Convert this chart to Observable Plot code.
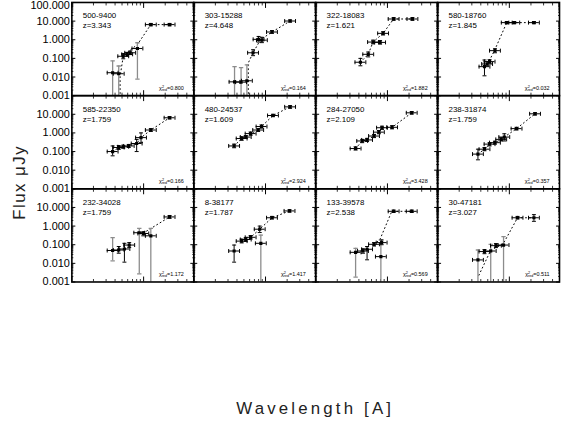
<!DOCTYPE html>
<html><head><meta charset="utf-8">
<script src="https://cdn.jsdelivr.net/npm/d3@7"></script>
<script src="https://cdn.jsdelivr.net/npm/@observablehq/plot@0.6"></script>
<style>
html,body{margin:0;padding:0;background:#fff;overflow:hidden;}
#chart{position:relative;width:561px;height:433px;overflow:hidden;}
</style></head><body><div id="chart"></div>
<script>
// ---- data ----
const ids = ["500-9400","303-15288","322-18083","580-18760","585-22350","480-24537","284-27050","238-31874","232-34028","8-38177","133-39578","30-47181"];
const redshifts = ["3.343","4.648","1.621","1.845","1.759","1.609","2.109","1.759","1.759","1.787","2.538","3.027"];
const chi2 = ["0.800","0.164","1.882","0.032","0.166","2.924","3.428","0.357","1.172","1.417","0.569","0.511"];

// wavelength [A]
const lam = [
 [3700, 4500, 5200, 5900, 6500, 8200, 12600, 23000],
 [3700, 4560, 5500, 6700, 8000, 8900, 12300, 22000],
 [4200, 5400, 6300, 7900, 8700, 12200, 22300],
 [4500, 4900, 5300, 6300, 9200, 11700, 22000],
 [3700, 4500, 5200, 6200, 8000, 9200, 12600, 23000],
 [3650, 4650, 5300, 6200, 7900, 8800, 12700, 22000],
 [3600, 4450, 5200, 6500, 7600, 8400, 11600, 21800],
 [3650, 4500, 5300, 6300, 7700, 8500, 12600, 22800],
 [3700, 4500, 5400, 6300, 8700, 9900, 12600, 23000],
 [3650, 4650, 5300, 6200, 8300, 8600, 12300, 21600],
 [3600, 4560, 5200, 6500, 8100, 8300, 12200, 21800],
 [3650, 4500, 5500, 6500, 8300, 13000, 22000]
];
// flux [uJy]
const flux = [
 [0.017, 0.015, 0.13, 0.165, 0.2, 0.34, 6.5, 6.5],
 [0.0055, 0.0053, 0.0063, 0.2, 1.05, 0.95, 2.6, 10.1],
 [0.062, 0.165, 0.75, 0.72, 2.2, 13, 13],
 [0.036, 0.05, 0.067, 0.26, 8.3, 8.3, 8.3],
 [0.1, 0.165, 0.18, 0.2, 0.27, 0.56, 1.43, 6.5],
 [0.2, 0.5, 0.6, 0.92, 1.43, 2.2, 8.6, 25],
 [0.145, 0.37, 0.42, 0.68, 1.1, 1.9, 2.0, 12],
 [0.073, 0.134, 0.25, 0.3, 0.45, 0.6, 1.7, 10.6],
 [0.049, 0.052, 0.059, 0.096, 0.44, 0.4, 0.3, 3.1],
 [0.046, 0.156, 0.19, 0.25, 0.68, 0.119, 2.8, 6.5],
 [0.039, 0.046, 0.057, 0.105, 0.023, 0.13, 6.2, 6.2],
 [0.0153, 0.043, 0.046, 0.089, 0.096, 2.8, 2.8]
];
// flux error lower / upper ends
const fluxLo = [
 [0.0003, 0.0003, 0.095, 0.13, 0.16, 0.0077, 5.6, 5.6],
 [0.0003, 0.0003, 0.0003, 0.14, 0.75, 0.7, 2.2, 8.8],
 [0.04, 0.12, 0.6, 0.58, 1.8, 11, 11],
 [0.0116, 0.04, 0.055, 0.2, 7.3, 7.3, 7.3],
 [0.059, 0.13, 0.15, 0.165, 0.1, 0.3, 1.2, 5.6],
 [0.16, 0.4, 0.5, 0.75, 1.2, 1.8, 7.4, 21],
 [0.12, 0.3, 0.35, 0.56, 0.9, 1.55, 1.65, 10.3],
 [0.036, 0.11, 0.2, 0.25, 0.37, 0.37, 1.45, 9.2],
 [0.0136, 0.035, 0.0116, 0.07, 0.0027, 0.3, 0.0003, 2.6],
 [0.0116, 0.125, 0.15, 0.2, 0.45, 0.0003, 2.4, 5.6],
 [0.0018, 0.035, 0.0155, 0.085, 0.0003, 0.1, 5.4, 5.4],
 [0.0003, 0.033, 0.0003, 0.07, 0.0003, 2.4, 1.8]
];
const fluxHi = [
 [0.073, 0.039, 0.18, 0.21, 0.25, 0.69, 7.5, 7.5],
 [0.036, 0.032, 0.045, 0.29, 1.5, 1.35, 3.1, 11.6],
 [0.1, 0.22, 0.95, 0.9, 2.7, 15.5, 15.5],
 [0.082, 0.065, 0.085, 0.33, 9.5, 9.5, 9.5],
 [0.2, 0.21, 0.22, 0.24, 0.45, 1.0, 1.7, 7.5],
 [0.25, 0.62, 0.72, 1.12, 1.7, 2.7, 10, 29],
 [0.18, 0.45, 0.51, 0.83, 1.35, 2.3, 2.45, 14],
 [0.134, 0.165, 0.3, 0.36, 0.55, 0.9, 2.0, 12.2],
 [0.24, 0.08, 0.119, 0.13, 0.75, 0.5, 0.75, 3.7],
 [0.096, 0.2, 0.24, 0.31, 1.0, 0.33, 3.3, 7.5],
 [0.064, 0.06, 0.08, 0.13, 0.18, 0.18, 7.2, 7.2],
 [0.052, 0.055, 0.105, 0.115, 0.27, 3.3, 4.1]
];
// best-fit model (dotted)
const modelLam = [
 [4700, 4700, 5200, 6500, 8200, 12600, 23000],
 [5750, 5750, 6700, 8500, 12300, 22000],
 [4200, 5400, 6300, 8700, 12200, 22300],
 [4900, 5300, 6300, 9200, 11700, 22000],
 [3700, 4500, 5200, 6200, 8000, 9200, 12600, 23000],
 [3650, 4650, 5300, 6200, 7900, 8800, 12700, 22000],
 [3600, 4450, 5200, 6500, 7600, 8400, 11600, 21800],
 [3650, 4500, 5300, 6300, 7700, 8500, 12600, 22800],
 [8700, 9900, 23000],
 [5300, 6200, 8300, 12300, 21600],
 [6500, 7900, 11500, 21800],
 [3760, 5500, 8300, 13000, 22000]
];
const modelFlux = [
 [0.0003, 0.0106, 0.13, 0.28, 0.55, 6.5, 6.5],
 [0.0003, 0.057, 0.2, 1.0, 2.6, 10.1],
 [0.062, 0.165, 0.75, 2.2, 13, 13],
 [0.05, 0.08, 0.3, 8.3, 8.3, 8.3],
 [0.1, 0.165, 0.18, 0.2, 0.27, 0.56, 1.43, 6.5],
 [0.2, 0.5, 0.6, 0.92, 1.43, 2.2, 8.6, 25],
 [0.145, 0.37, 0.42, 0.68, 1.1, 1.9, 2.0, 12],
 [0.073, 0.134, 0.25, 0.3, 0.45, 0.6, 1.7, 10.6],
 [0.4, 0.42, 3.1],
 [0.19, 0.25, 0.68, 2.8, 6.5],
 [0.1, 0.2, 6.2, 6.2],
 [0.0023, 0.05, 0.12, 2.8, 2.8]
];
const filterHalfWidth = 1.19; // relative band half-width (x error)

const yTickLabels = [0.001, 0.01, 0.1, 1, 10];
const yMajor = [0.001, 0.01, 0.1, 1, 10, 100];
const xMajor = [1000, 10000];
const yMinor = [];
for (const d of [0.001, 0.01, 0.1, 1, 10]) for (let k = 2; k <= 9; k++) yMinor.push(+(k * d).toPrecision(3));
const xMinor = [2000,3000,4000,5000,6000,7000,8000,9000,20000,30000,40000,50000];

// ---- tables ----
const pts = [], model = [], panels = [];
ids.forEach((id, p) => {
  const col = p % 4, row = Math.floor(p / 4);
  panels.push({col, row, label: id + "\nz=" + redshifts[p], chi: "χ2red=" + chi2[p]});
  lam[p].forEach((l, i) => pts.push({col, row, lam: l, flux: flux[p][i], lo: fluxLo[p][i], hi: fluxHi[p][i],
    lamLo: l / filterHalfWidth, lamHi: l * filterHalfWidth, big: fluxHi[p][i] / fluxLo[p][i] > 12}));
  modelLam[p].forEach((l, i) => model.push({col, row, panel: p, lam: l, flux: modelFlux[p][i]}));
});

const capV = {draw(ctx, size) { const h = Math.sqrt(size / Math.PI); ctx.moveTo(0, -h); ctx.lineTo(0, h); }};
const capH = {draw(ctx, size) { const h = Math.sqrt(size / Math.PI); ctx.moveTo(-h, 0); ctx.lineTo(h, 0); }};
const F = {fx: "col", fy: "row"};
const blank = () => "";

const chart = Plot.plot({
  width: 566, height: 433,
  marginLeft: 72, marginRight: 2, marginTop: 2, marginBottom: 149,
  style: {fontFamily: "'Liberation Sans', Arial, sans-serif", fontSize: "10px", color: "black", background: "white"},
  fx: {domain: [0, 1, 2, 3], padding: 0, axis: null},
  fy: {domain: [0, 1, 2], padding: 0, axis: null},
  x: {type: "log", domain: [1000, 50000]},
  y: {type: "log", domain: [0.001, 100]},
  marks: [
    // inward ticks
    Plot.axisY({anchor: "left", ticks: yMajor, tickSize: 4, dx: 4, tickFormat: blank, fill: "none", label: null, facetAnchor: null, strokeWidth: 1}),
    Plot.axisY({anchor: "left", ticks: yMinor, tickSize: 2, dx: 2, tickFormat: blank, fill: "none", label: null, facetAnchor: null, strokeWidth: 0.8}),
    Plot.axisY({anchor: "right", ticks: yMajor, tickSize: 4, dx: -4, tickFormat: blank, fill: "none", label: null, facetAnchor: null, strokeWidth: 1}),
    Plot.axisY({anchor: "right", ticks: yMinor, tickSize: 2, dx: -2, tickFormat: blank, fill: "none", label: null, facetAnchor: null, strokeWidth: 0.8}),
    Plot.axisX({anchor: "bottom", ticks: xMajor, tickSize: 5, dy: -5, tickFormat: blank, fill: "none", label: null, facetAnchor: null, strokeWidth: 1}),
    Plot.axisX({anchor: "bottom", ticks: xMinor, tickSize: 2.5, dy: -2.5, tickFormat: blank, fill: "none", label: null, facetAnchor: null, strokeWidth: 0.8}),
    Plot.axisX({anchor: "top", ticks: xMajor, tickSize: 5, dy: 5, tickFormat: blank, fill: "none", label: null, facetAnchor: null, strokeWidth: 1}),
    Plot.axisX({anchor: "top", ticks: xMinor, tickSize: 2.5, dy: 2.5, tickFormat: blank, fill: "none", label: null, facetAnchor: null, strokeWidth: 0.8}),
    // y tick labels (left column)
    Plot.axisY({anchor: "left", ticks: yTickLabels, tickSize: 0, tickPadding: 2, tickFormat: d => d.toFixed(3), label: null, fontSize: 11}),
    Plot.text([{col: 0, row: 0, v: 100}], {fx: "col", fy: "row", y: "v", frameAnchor: "left", text: d => d.v.toFixed(3), textAnchor: "end", lineAnchor: "top", dx: -2, dy: -1, fontSize: 11}),
    // model
    Plot.line(model, {...F, x: "lam", y: "flux", z: "panel", stroke: "black", strokeWidth: 1, strokeDasharray: "1,3", clip: true}),
    // vertical error bars
    Plot.ruleX(pts.filter(d => d.big), {...F, x: "lam", y1: "lo", y2: "hi", stroke: "#8c8c8c", strokeWidth: 1.3, clip: true}),
    Plot.ruleX(pts.filter(d => !d.big), {...F, x: "lam", y1: "lo", y2: "hi", stroke: "black", strokeWidth: 1, clip: true}),
    Plot.dot(pts.filter(d => d.big), {...F, x: "lam", y: "hi", symbol: capH, r: 2.2, stroke: "#8c8c8c", fill: "none", strokeWidth: 1.3, clip: true}),
    Plot.dot(pts.filter(d => d.big), {...F, x: "lam", y: "lo", symbol: capH, r: 2.2, stroke: "#8c8c8c", fill: "none", strokeWidth: 1.3, clip: true}),
    Plot.dot(pts.filter(d => !d.big), {...F, x: "lam", y: "hi", symbol: capH, r: 2, stroke: "black", fill: "none", strokeWidth: 1, clip: true}),
    Plot.dot(pts.filter(d => !d.big), {...F, x: "lam", y: "lo", symbol: capH, r: 2, stroke: "black", fill: "none", strokeWidth: 1, clip: true}),
    // horizontal error bars
    Plot.ruleY(pts, {...F, y: "flux", x1: "lamLo", x2: "lamHi", stroke: "black", strokeWidth: 1, clip: true}),
    Plot.dot(pts, {...F, x: "lamLo", y: "flux", symbol: capV, r: 2, stroke: "black", fill: "none", strokeWidth: 1, clip: true}),
    Plot.dot(pts, {...F, x: "lamHi", y: "flux", symbol: capV, r: 2, stroke: "black", fill: "none", strokeWidth: 1, clip: true}),
    // points
    Plot.dot(pts, {...F, x: "lam", y: "flux", symbol: "square", r: 1.8, fill: "black", clip: true}),
    // labels
    Plot.text(panels, {...F, frameAnchor: "top-left", text: "label", dx: 11, dy: 9, fontSize: 8, lineHeight: 1.25}),
    Plot.text(panels, {...F, frameAnchor: "bottom-right", text: "chi", dx: -10, dy: -6, fontSize: 5.5, textAnchor: "end"}),
    Plot.frame({stroke: "black", strokeWidth: 1.6})
  ]
});

// chi-square labels: superscript 2 and subscript "red"
d3.select(chart).selectAll("text").each(function() {
  const t = this.textContent;
  if (t.startsWith("χ2red=")) {
    const s = d3.select(this); s.text("");
    s.append("tspan").text("χ");
    s.append("tspan").attr("dy", -2.2).attr("font-size", 3.8).text("2");
    s.append("tspan").attr("dx", -2.1).attr("dy", 3.6).attr("font-size", 3.6).text("red");
    s.append("tspan").attr("dy", -1.4).text(t.slice(5));
  }
});

const svg = d3.select(chart);
svg.append("text").attr("transform", "translate(20,184) rotate(-90)")
  .attr("text-anchor", "middle").attr("dominant-baseline", "central")
  .attr("font-size", 17).attr("letter-spacing", 1.5).attr("fill", "#222")
  .text("Flux μJy");
svg.append("text").attr("x", 318).attr("y", 412)
  .attr("text-anchor", "middle").attr("dominant-baseline", "central")
  .attr("font-size", 17).attr("letter-spacing", 3.2).attr("fill", "#222")
  .text("Wavelength [A]");

document.getElementById("chart").appendChild(chart);
</script></body></html>
